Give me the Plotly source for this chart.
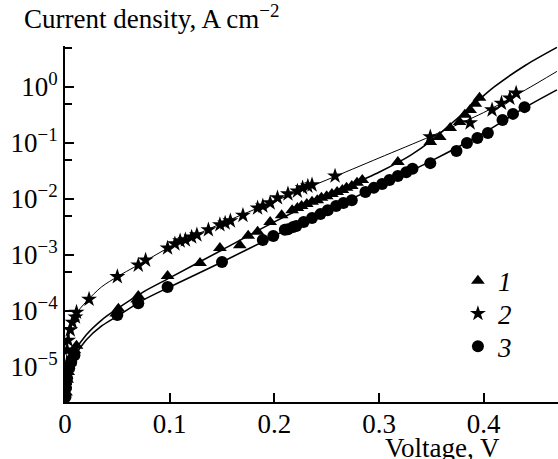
import plotly.graph_objects as go

# ---- data (Voltage V, current density A cm^-2) ----
v1 = [0.001, 0.002, 0.003, 0.005, 0.007, 0.009, 0.011, 0.049, 0.051, 0.069, 0.07,
      0.098, 0.129, 0.148, 0.167, 0.175, 0.184, 0.196, 0.207, 0.217, 0.222,
      0.226, 0.231, 0.236, 0.241, 0.245, 0.250, 0.255, 0.260, 0.265, 0.269, 0.274, 0.279, 0.284,
      0.318, 0.349, 0.358, 0.368, 0.377, 0.382, 0.387, 0.392, 0.396]
j1 = [3.5e-6, 5.9e-6, 8.1e-6, 1.2e-5, 1.6e-5, 2.0e-5, 2.4e-5, 9.0e-5, 1.1e-4, 1.6e-4, 1.86e-4,
      4.2e-4, 7.2e-4, 1.33e-3, 1.5e-3, 2.2e-3, 2.6e-3, 3.9e-3, 5.1e-3, 6.3e-3, 6.9e-3,
      7.5e-3, 8.1e-3, 8.9e-3, 9.5e-3, 1.05e-2, 1.12e-2, 1.23e-2, 1.33e-2, 1.45e-2, 1.58e-2, 1.7e-2, 1.95e-2, 2.19e-2,
      4.6e-2, 0.104, 0.128, 0.185, 0.237, 0.32, 0.39, 0.50, 0.64]

v2 = [0.001, 0.002, 0.003, 0.005, 0.007, 0.010, 0.011, 0.023, 0.050, 0.070, 0.077,
      0.098, 0.105, 0.110, 0.115, 0.121, 0.126, 0.137, 0.148, 0.153, 0.158, 0.170,
      0.184, 0.189, 0.196, 0.203, 0.213, 0.222, 0.227, 0.232, 0.236, 0.258,
      0.349, 0.387, 0.408, 0.417, 0.425, 0.431]
j2 = [1.0e-5, 2.0e-5, 3.0e-5, 4.6e-5, 6.3e-5, 7.8e-5, 9.5e-5, 1.62e-4, 4.1e-4, 6.6e-4, 8.1e-4,
      1.33e-3, 1.58e-3, 1.78e-3, 1.86e-3, 2.09e-3, 2.29e-3, 2.82e-3, 3.47e-3, 3.72e-3, 4.07e-3, 5.1e-3,
      6.9e-3, 7.5e-3, 8.5e-3, 1.05e-2, 1.23e-2, 1.38e-2, 1.58e-2, 1.7e-2, 1.78e-2, 2.57e-2,
      0.129, 0.229, 0.389, 0.513, 0.631, 0.776]

v3 = [0.0005, 0.001, 0.002, 0.004, 0.006, 0.009, 0.050, 0.070, 0.098, 0.150,
      0.189, 0.199, 0.210, 0.213, 0.218, 0.221, 0.228, 0.236, 0.244, 0.251, 0.259, 0.266, 0.274,
      0.287, 0.295, 0.303, 0.310, 0.318, 0.326, 0.332, 0.349, 0.374, 0.384, 0.394, 0.404,
      0.418, 0.428, 0.439]
j3 = [2.9e-6, 4.2e-6, 6.3e-6, 9.5e-6, 1.23e-5, 1.62e-5, 8.5e-5, 1.38e-4, 2.69e-4, 7.5e-4,
      1.86e-3, 2.19e-3, 2.82e-3, 2.88e-3, 3.16e-3, 3.31e-3, 3.89e-3, 4.57e-3, 5.37e-3, 6.3e-3, 7.5e-3, 8.5e-3, 9.5e-3,
      1.33e-2, 1.58e-2, 1.86e-2, 2.19e-2, 2.57e-2, 3.0e-2, 3.47e-2, 4.37e-2, 7.2e-2, 0.100, 0.123, 0.151,
      0.257, 0.331, 0.437]

# fitted curves
fit1_v = [0.0005, 0.002, 0.005, 0.01, 0.02, 0.035, 0.05, 0.075, 0.1, 0.15, 0.2, 0.25, 0.3, 0.33, 0.35,
          0.37, 0.39, 0.41, 0.44, 0.47]
fit1 = [3.2e-6, 6.5e-6, 1.2e-5, 2.0e-5, 3.7e-5, 6.9e-5, 1.1e-4, 2.2e-4, 3.9e-4, 1.23e-3, 3.9e-3, 1.12e-2, 3.0e-2,
        6.0e-2, 0.11, 0.23, 0.48, 1.0, 2.45, 5.1]
fit_v = [0.0005, 0.002, 0.005, 0.01, 0.02, 0.035, 0.05, 0.075, 0.1, 0.15, 0.2, 0.25, 0.3, 0.35, 0.4, 0.44, 0.47]
fit2 = [5.9e-6, 2.0e-5, 4.6e-5, 8.5e-5, 1.45e-4, 2.7e-4, 4.1e-4, 7.5e-4, 1.38e-3, 3.7e-3, 9.1e-3, 2.19e-2, 5.4e-2,
        0.133, 0.35, 0.89, 1.9]
fit3 = [2.6e-6, 5.9e-6, 1.0e-5, 1.62e-5, 3.0e-5, 5.4e-5, 8.1e-5, 1.58e-4, 2.69e-4, 7.5e-4, 2.19e-3, 6.3e-3, 1.7e-2,
        4.8e-2, 0.151, 0.437, 0.89]

xticks = [0, 0.1, 0.2, 0.3, 0.4]
xticklabels = ["0", "0.1", "0.2", "0.3", "0.4"]
yticks = [1e-5, 1e-4, 1e-3, 1e-2, 1e-1, 1]
yticklabels = ["10<sup>−5</sup>", "10<sup>−4</sup>", "10<sup>−3</sup>", "10<sup>−2</sup>",
               "10<sup>−1</sup>", "10<sup>0</sup>"]
yminor = [5e-6, 5e-5, 5e-4, 5e-3, 5e-2, 5e-1, 5]

FONT = "Liberation Serif"
FS = 27

fig = go.Figure()
fig.add_trace(go.Scatter(x=fit1_v, y=fit1, mode="lines", line=dict(color="black", width=1.6, shape="spline", smoothing=0.8),
                         showlegend=False, hoverinfo="skip"))
fig.add_trace(go.Scatter(x=fit_v, y=fit2, mode="lines", line=dict(color="black", width=1.0, shape="spline", smoothing=0.8),
                         showlegend=False, hoverinfo="skip"))
fig.add_trace(go.Scatter(x=fit_v, y=fit3, mode="lines", line=dict(color="black", width=1.6, shape="spline", smoothing=0.8),
                         showlegend=False, hoverinfo="skip"))
fig.add_trace(go.Scatter(x=v1, y=j1, mode="markers", name="<i>1</i>", legend="legend",
                         marker=dict(symbol="triangle-up", size=12, color="black")))
fig.add_trace(go.Scatter(x=v2, y=j2, mode="markers", name="<i>2</i>", legend="legend2",
                         marker=dict(symbol="star", size=12, color="black")))
fig.add_trace(go.Scatter(x=v3, y=j3, mode="markers", name="<i>3</i>", legend="legend3",
                         marker=dict(symbol="circle", size=12, color="black")))

leg = dict(x=0.797, xanchor="left", yanchor="top", bgcolor="rgba(0,0,0,0)",
           font=dict(family=FONT, size=FS), itemwidth=30)

fig.update_layout(
    width=558, height=459,
    margin=dict(l=65, r=0, t=46, b=57),
    paper_bgcolor="white", plot_bgcolor="white",
    font=dict(family=FONT, size=FS, color="black"),
    legend=dict(leg, y=0.408),
    legend2=dict(leg, y=0.316),
    legend3=dict(leg, y=0.224),
    xaxis=dict(range=[0, 0.471], showgrid=False, zeroline=False, showline=True, linecolor="black",
               linewidth=2, ticks="inside", ticklen=9, tickwidth=2, tickcolor="black",
               tickmode="array", tickvals=xticks, ticktext=xticklabels, automargin=False,
               ticklabelstandoff=-3,
               tickfont=dict(family=FONT, size=FS), mirror=False),
    yaxis=dict(type="log", range=[-5.625, 0.732], showgrid=False, zeroline=False, showline=True,
               linecolor="black", linewidth=2, ticks="inside", ticklen=9, tickwidth=2, tickcolor="black",
               tickmode="array", tickvals=yticks, ticktext=yticklabels, automargin=False,
               tickfont=dict(family=FONT, size=FS),
               minor=dict(tickmode="array", tickvals=yminor, ticks="inside", ticklen=7, tickwidth=2,
                          tickcolor="black", showgrid=False)),
    annotations=[
        dict(text="Current density, A cm<sup>−2</sup>", xref="paper", yref="paper", x=-0.087, y=1.081,
             xanchor="left", yanchor="middle", showarrow=False, font=dict(family=FONT, size=FS)),
        dict(text="Voltage, V", xref="paper", yref="paper", x=0.886, y=-0.128,
             xanchor="right", yanchor="middle", showarrow=False, font=dict(family=FONT, size=FS)),
    ],
)

fig.write_html("out.html", config={"displayModeBar": False},
               post_script="document.body.style.margin='0px';")
